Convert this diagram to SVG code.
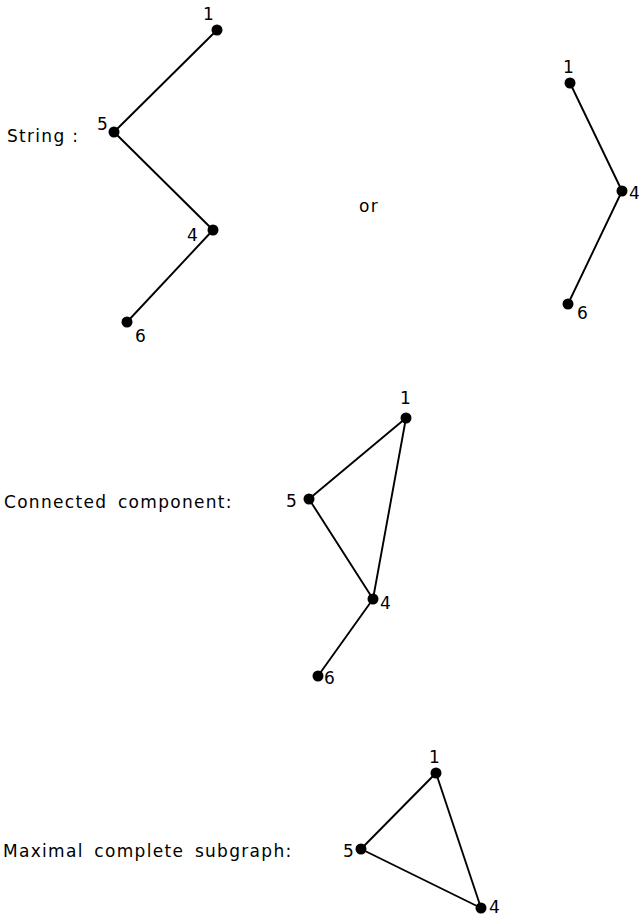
<svg xmlns="http://www.w3.org/2000/svg" width="639" height="916" viewBox="0 0 639 916">
  <style>
    .edge { stroke: #000; stroke-width: 1.9; fill: none; stroke-linecap: round; }
    .dot { fill: #000; }
    .lbl { font-family: "DejaVu Sans", "Liberation Sans", sans-serif; font-size: 17px; fill: #000; }
    .cap { font-family: "DejaVu Sans", "Liberation Sans", sans-serif; font-size: 17px; fill: #000; letter-spacing: 1.3px; word-spacing: 4px; }
  </style>
  <rect width="639" height="916" fill="#fff"/>

  <!-- captions -->
  <text class="cap" x="7" y="142" style="word-spacing:0">String :</text>
  <text class="cap" x="359" y="212">or</text>
  <text class="cap" x="4" y="508">Connected component:</text>
  <text class="cap" x="3" y="857">Maximal complete subgraph:</text>

  <!-- connectors -->
  <g id="edges">
    <line class="edge" x1="217" y1="30" x2="114" y2="132"/>
    <line class="edge" x1="114" y1="132" x2="213" y2="230"/>
    <line class="edge" x1="213" y1="230" x2="127" y2="322"/>

    <line class="edge" x1="570" y1="83" x2="622" y2="191"/>
    <line class="edge" x1="622" y1="191" x2="568" y2="304"/>

    <line class="edge" x1="406" y1="418" x2="309" y2="499"/>
    <line class="edge" x1="406" y1="418" x2="373" y2="599"/>
    <line class="edge" x1="309" y1="499" x2="373" y2="599"/>
    <line class="edge" x1="373" y1="599" x2="318" y2="676"/>

    <line class="edge" x1="436" y1="773" x2="361" y2="849"/>
    <line class="edge" x1="436" y1="773" x2="481" y2="908"/>
    <line class="edge" x1="361" y1="849" x2="481" y2="908"/>
  </g>

  <!-- string, first form -->
  <g id="s1-n1"><circle class="dot" cx="217" cy="30" r="5.5"/><text class="lbl" x="203" y="20">1</text></g>
  <g id="s1-n5"><circle class="dot" cx="114" cy="132" r="5.5"/><text class="lbl" x="97" y="130">5</text></g>
  <g id="s1-n4"><circle class="dot" cx="213" cy="230" r="5.5"/><text class="lbl" x="187" y="241">4</text></g>
  <g id="s1-n6"><circle class="dot" cx="127" cy="322" r="5.5"/><text class="lbl" x="135" y="342">6</text></g>

  <!-- string, second form -->
  <g id="s2-n1"><circle class="dot" cx="570" cy="83" r="5.5"/><text class="lbl" x="563" y="73">1</text></g>
  <g id="s2-n4"><circle class="dot" cx="622" cy="191" r="5.5"/><text class="lbl" x="629" y="199">4</text></g>
  <g id="s2-n6"><circle class="dot" cx="568" cy="304" r="5.5"/><text class="lbl" x="577" y="319">6</text></g>

  <!-- connected component -->
  <g id="cc-n1"><circle class="dot" cx="406" cy="418" r="5.5"/><text class="lbl" x="400" y="404">1</text></g>
  <g id="cc-n5"><circle class="dot" cx="309" cy="499" r="5.5"/><text class="lbl" x="286" y="507">5</text></g>
  <g id="cc-n4"><circle class="dot" cx="373" cy="599" r="5.5"/><text class="lbl" x="380" y="609">4</text></g>
  <g id="cc-n6"><circle class="dot" cx="318" cy="676" r="5.5"/><text class="lbl" x="324" y="684">6</text></g>

  <!-- maximal complete subgraph -->
  <g id="mc-n1"><circle class="dot" cx="436" cy="773" r="5.5"/><text class="lbl" x="429" y="763">1</text></g>
  <g id="mc-n5"><circle class="dot" cx="361" cy="849" r="5.5"/><text class="lbl" x="343" y="857">5</text></g>
  <g id="mc-n4"><circle class="dot" cx="481" cy="908" r="5.5"/><text class="lbl" x="489" y="913">4</text></g>
</svg>
